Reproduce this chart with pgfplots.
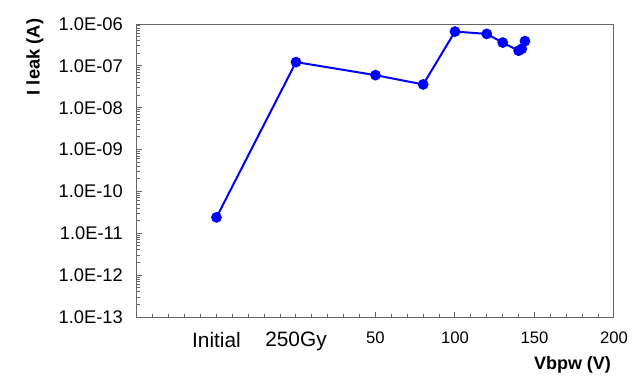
\documentclass[border=0pt]{standalone}
\usepackage{pgfplots}
\pgfplotsset{compat=1.18}
\usepackage{fontspec}
\setmainfont{Liberation Sans}

\begin{document}
\begin{tikzpicture}[x=1pt,y=1pt]
% page = 640x384 px at 0.6pt per px, axis box lower left at (0,0)
\path[use as bounding box] (-82.2,-40.2) rectangle (301.8,190.2);
\begin{axis}[
    at={(0,0)}, anchor=south west,
    scale only axis,
    width=286.2pt, height=175.8pt,
    ymode=log,
    ymin=1e-13, ymax=1e-6,
    xmin=-100, xmax=200,
    xtick={50,100,150,200},
    minor xtick={-90,-80,...,190},
    extra x ticks={-50,0},
    extra x tick labels={{\fontsize{12.5}{14}\selectfont Initial},{\fontsize{12.5}{14}\selectfont 250Gy}},
    extra x tick style={major tick length=1.8pt},
    ytick={1e-13,1e-12,1e-11,1e-10,1e-9,1e-8,1e-7,1e-6},
    yticklabels={1.0E-13,1.0E-12,1.0E-11,1.0E-10,1.0E-09,1.0E-08,1.0E-07,1.0E-06},
    tick align=inside,
    xtick pos=bottom, ytick pos=left,
    major tick length=3pt, minor tick length=1.8pt,
    tick style={black!60, line width=0.6pt},
    axis line style={black!60, line width=0.6pt},
    x tick label style={font=\fontsize{10}{12}\selectfont, yshift=-5.5pt},
    y tick label style={font=\fontsize{11}{13}\selectfont, xshift=-5pt},
    /pgf/number format/assume math mode=true,
]
\addplot[color=blue, line width=1.2pt, mark=*, mark size=2.6pt,
    mark options={fill=blue, draw=blue}]
    coordinates {
    (-50,2.4e-11)(0,1.23e-7)(50,6.0e-8)(80,3.6e-8)(100,6.6e-7)
    (120,5.8e-7)(130,3.6e-7)(140,2.3e-7)(142,2.55e-7)(144,3.9e-7)
    };
\end{axis}
\node[rotate=90, font=\bfseries\fontsize{11}{13}\selectfont] at (-61.2,156) {I leak (A)};
\node[font=\bfseries\fontsize{10.8}{13}\selectfont] at (261.3,-28.8) {Vbpw (V)};
\end{tikzpicture}
\end{document}
